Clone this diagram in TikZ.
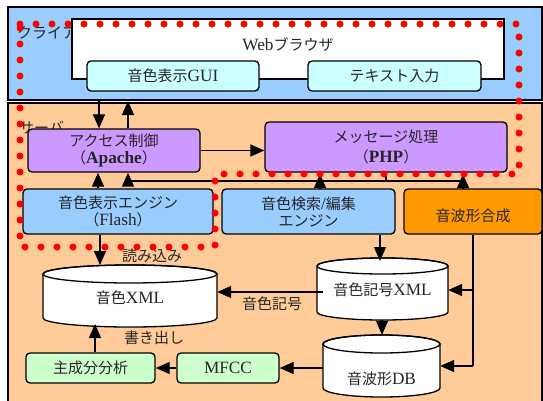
\documentclass[tikz,border=0pt]{standalone}
\usepackage{fontspec}
\setmainfont{Liberation Serif}[Scale=1.15]
\newfontfamily\jp{Noto Sans CJK JP}
\newcommand\J[1]{{\jp #1}}
\usetikzlibrary{arrows.meta}
\definecolor{cliblue}{HTML}{99CCFF}
\definecolor{srvorange}{HTML}{FFCC99}
\definecolor{guicyan}{HTML}{CCFFFF}
\definecolor{phppurple}{HTML}{CC99FF}
\definecolor{synthorange}{HTML}{FF9900}
\definecolor{pcagreen}{HTML}{CCFFCC}
\newcommand\mycyl[6]{%
 \pgfmathsetmacro\cx{(#2+#4)/2}\pgfmathsetmacro\rx{(#4-#2)/2}%
 \filldraw[fill=white, line width=1.3pt] (#2,#3+#6) -- (#2,#5-#6) arc[start angle=180, end angle=0, x radius=\rx, y radius=#6] -- (#4,#3+#6) arc[start angle=0, end angle=-180, x radius=\rx, y radius=#6] -- cycle;
 \draw[line width=1.3pt] (\cx,#3+#6) ellipse[x radius=\rx, y radius=#6];
 \node[inner sep=0pt, minimum width={(#4-#2)*1pt}, minimum height={(#5-#3)*1pt}] (#1) at (\cx,{(#3+#5)/2}) {};
}
\begin{document}
\begin{tikzpicture}[x=1pt,y=-1pt,
  every node/.style={font=\fontsize{15}{19}\selectfont, text=black!85},
  box/.style={draw=black, line width=1.3pt, rounded corners=4pt, inner sep=0pt, align=center},
  arr/.style={draw=black, line width=1.2pt, -{Triangle[length=14pt,width=12pt]}},
  ln/.style={draw=black, line width=1.2pt},
  lbl/.style={inner sep=0pt}]
\useasboundingbox (0,0) rectangle (543,400);
\fill[white] (0,0) rectangle (543,400);
% backgrounds
\filldraw[fill=cliblue, draw=black, line width=1.3pt] (8,7) rectangle (542,100);
\filldraw[fill=srvorange, draw=black, line width=1.3pt] (8,103) rectangle (542,410);
\node[lbl, anchor=west] (clilbl) at (17,33) {\J{クライアント}};
\node[lbl, anchor=west] (srvlbl) at (19,128) {\J{サーバ}};
% client
\node[draw=black, line width=1.3pt, fill=white, minimum width=432pt, minimum height=60pt, inner sep=0pt] (web) at (288,49) {};
\node[lbl] (webt) at (288,45) {Web\J{ブラウザ}};
\node[box, fill=guicyan, minimum width=172pt, minimum height=30pt] (gui) at (173,76) {\J{音色表示}GUI};
\node[box, fill=guicyan, minimum width=173pt, minimum height=30pt] (txt) at (394.5,76) {\J{テキスト入力}};
% server boxes
\node[box, fill=phppurple, minimum width=172pt, minimum height=43pt] (acc) at (114,150.5) {\J{アクセス制御}\\[-2pt]\J{（}\textbf{Apache}\J{）}};
\node[box, fill=phppurple, minimum width=242pt, minimum height=50pt] (msg) at (386,147) {\J{メッセージ処理}\\[1pt]\J{（}\textbf{PHP}\J{）}};
\node[box, fill=cliblue, minimum width=190pt, minimum height=45pt] (flash) at (118,211.5) {\J{音色表示エンジン}\\[-2pt]\J{（}Flash\J{）}};
\node[box, fill=cliblue, minimum width=173pt, minimum height=45pt] (srch) at (308.5,211.5) {\J{音色検索}/\J{編集}\\[-2pt]\J{エンジン}};
\node[box, fill=synthorange, minimum width=138pt, minimum height=45pt] (synth) at (473,211.5) {};
\node[lbl] (syntht) at (473,216) {\J{音波形合成}};
\node[box, fill=pcagreen, minimum width=129pt, minimum height=30pt] (pca) at (90.5,368) {\J{主成分分析}};
\node[box, fill=pcagreen, minimum width=102pt, minimum height=30pt] (mfcc) at (228,368) {MFCC};
% cylinders
\mycyl{xml}{43}{265}{217}{327}{9}
\mycyl{kxml}{317}{258}{448}{320}{8}
\mycyl{db}{323}{335}{440}{397}{9}
\node[lbl] (xmlt) at (130,298) {\J{音色}XML};
\node[lbl] (kxmlt) at (382.5,290) {\J{音色記号}XML};
\node[lbl] (dbt) at (381.5,379) {\J{音波形}DB};
% client <-> access
\coordinate (cdown) at (99,100);
\coordinate (cup) at (128,101);
\draw[arr] (cdown) -- (cdown |- acc.north);
\draw[arr] (cup |- acc.north) -- (cup);
% access -> message
\draw[arr] (acc.east) -- (acc.east -| msg.west);
% message bus
\coordinate (busm) at (386,181);
\coordinate (busl) at (128,181);
\coordinate (busr) at (463,181);
\draw[ln] (msg.south -| busm) -- (busm);
\draw[ln] (busl) -- (busr);
\draw[arr] (busl) -- (busl |- acc.south);
\coordinate (tipa) at (320,174);
\coordinate (tipb) at (463,174);
\draw[arr] (tipa |- srch.north) -- (tipa);
\draw[arr] (tipb |- synth.north) -- (tipb);
\coordinate (fl) at (98,172);
\draw[arr] (fl |- flash.north) -- (fl |- acc.south);
% flash -> xml
\coordinate (rd) at (100,265);
\draw[arr] (rd |- flash.south) -- (rd);
\node[lbl] (rdl) at (152,256) {\J{読み込み}};
% search -> kxml
\coordinate (sk) at (380,261);
\draw[arr] (sk |- srch.south) -- (sk);
% synth -> kxml, db
\coordinate (sy1) at (473,290);
\coordinate (sy2) at (473,366);
\draw[ln] (synth.south -| sy2) -- (sy2);
\draw[arr] (sy2) -- (sy2 -| db.east);
\draw[arr] (sy1) -- (sy1 -| kxml.east);
% kxml -> xml
\coordinate (kx) at (323,292);
\draw[arr] (kx) -- (kx -| xml.east);
\node[lbl] (kxl) at (272,304) {\J{音色記号}};
% kxml -> db
\draw[arr] (kxml.south -| 382,0) -- (db.north -| 382,0);
% db -> mfcc -> pca
\draw[arr] (db.west |- mfcc.east) -- (mfcc.east);
\draw[arr] (mfcc.west) -- (pca.east);
% pca -> xml
\coordinate (wr) at (95,324);
\draw[arr] (wr |- pca.north) -- (wr);
\node[lbl] (wrl) at (154,338) {\J{書き出し}};
% red dotted boundary
\draw[red, line width=7pt, line cap=round, dash pattern=on 0pt off 16pt]
  (20,24) -- (519,24) -- (519,174) -- (215,174) -- (215,247) -- (20,247) -- cycle;
\end{tikzpicture}
\end{document}
